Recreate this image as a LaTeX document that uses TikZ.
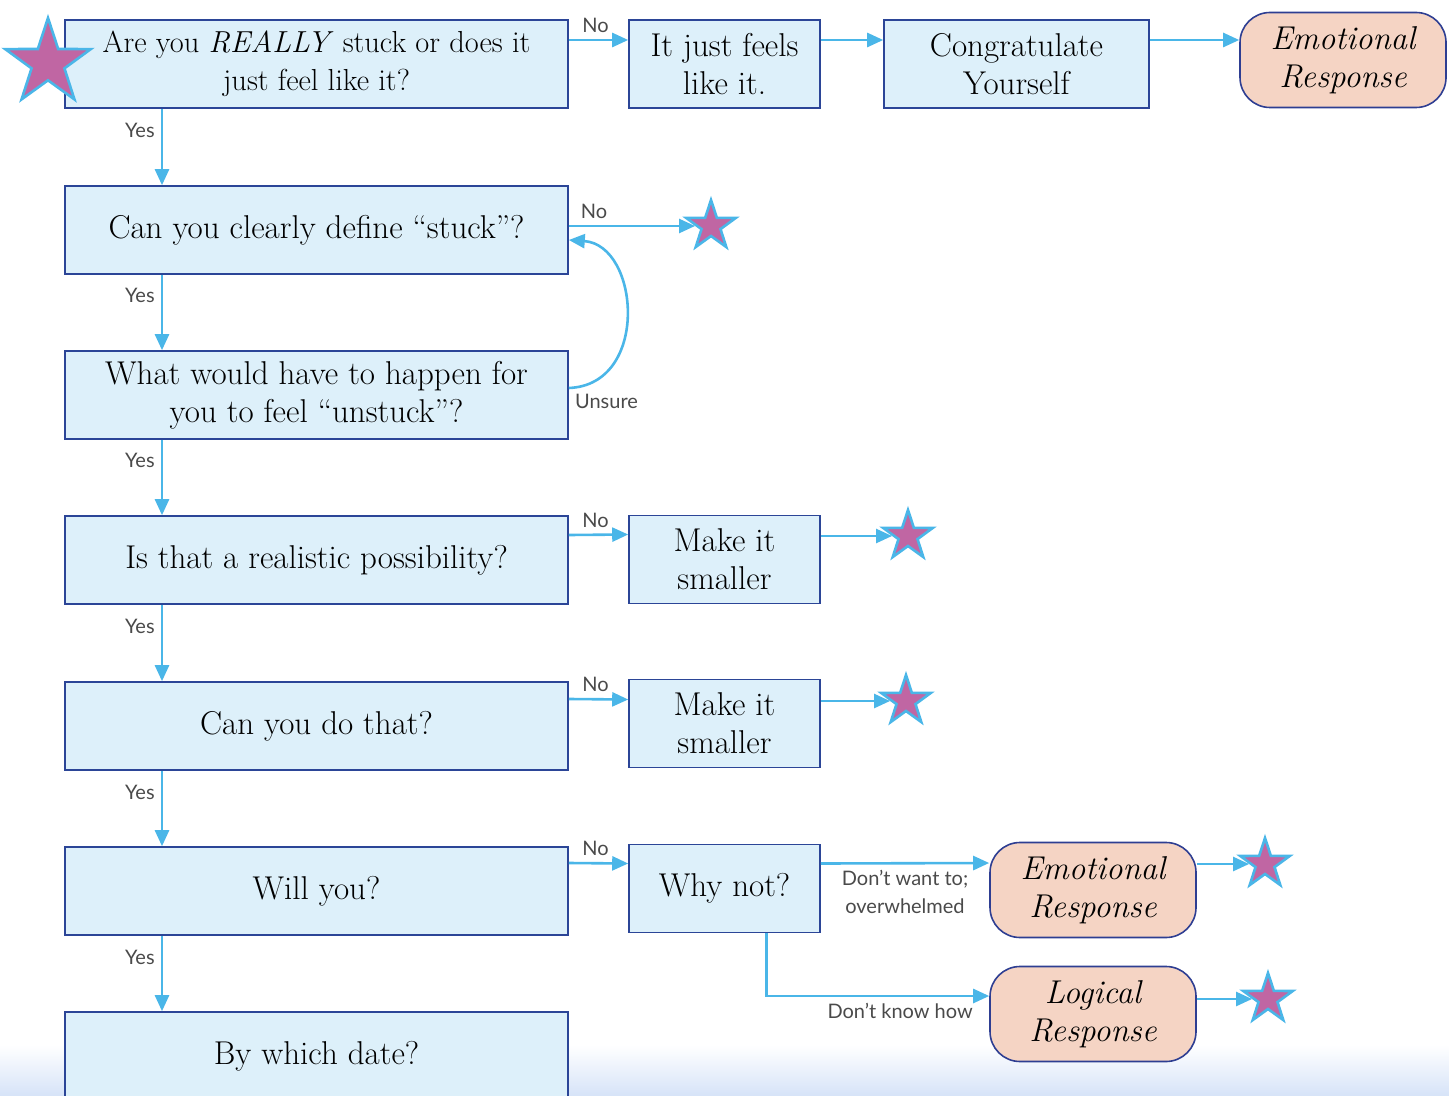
\documentclass[tikz,border=0pt]{standalone}
\usepackage{fontspec}
\newfontfamily\lblfont{Lato}
\usepackage{tikz}
\usetikzlibrary{arrows.meta,shapes.geometric,backgrounds}
\definecolor{boxfill}{HTML}{DDF0FA}
\definecolor{boxline}{HTML}{2B4597}
\definecolor{rfill}{HTML}{F5D4C4}
\definecolor{rline}{HTML}{2E3E92}
\definecolor{flowc}{HTML}{4AB6E8}
\definecolor{starfill}{HTML}{C066A3}
\definecolor{lblc}{HTML}{4A4A4A}
\definecolor{bottomc}{HTML}{D6E3F8}

\tikzset{
  qbox/.style={draw=boxline, fill=boxfill, line width=0.8pt, minimum width=251.5pt, minimum height=44pt,
    inner sep=0pt, align=center, font=\fontsize{16.5}{19}\selectfont},
  abox/.style={qbox, minimum width=95.5pt},
  rbox/.style={draw=rline, fill=rfill, line width=0.8pt, rounded corners=15pt, minimum width=103pt,
    minimum height=47.5pt, inner sep=0pt, align=center, font=\fontsize{16.5}{19}\selectfont\itshape},
  flow/.style={draw=flowc, line width=1.3pt, -{Triangle[length=8pt,width=7pt]}},
  lbl/.style={font=\lblfont\fontsize{10}{14}\selectfont, text=lblc, inner sep=3pt},
  mystar/.style={star, star points=5, star point ratio=2.6, fill=starfill, draw=flowc, line width=1.3pt,
    minimum size=26pt, inner sep=0pt},
}

\begin{document}
\begin{tikzpicture}[x=0.5pt,y=-0.5pt]
\useasboundingbox (0,0) rectangle (1449,1096);
\shade[top color=white, bottom color=bottomc] (0,1045) rectangle (1449,1096);

\node[qbox, font=\fontsize{15.2}{19}\selectfont] (b1) at (316.5,64) {Are you \textit{REALLY} stuck or does it\\just feel like it?};
\node[qbox] (b2) at (316.5,230) {Can you clearly define “stuck”?};
\node[qbox] (b3) at (316.5,395) {What would have to happen for\\you to feel “unstuck”?};
\node[qbox] (b4) at (316.5,560) {Is that a realistic possibility?};
\node[qbox] (b5) at (316.5,726) {Can you do that?};
\node[qbox] (b6) at (316.5,891) {Will you?};
\node[qbox] (b7) at (316.5,1056) {By which date?};

\node[abox] (feels) at (724.5,64) {It just feels\\like it.};
\node[qbox, minimum width=132.5pt] (congrat) at (1016.5,64) {Congratulate\\Yourself};
\node[rbox] (emo1) at (1343,60) {Emotional\\Response};
\node[abox] (small1) at (724.5,559.5) {Make it\\smaller};
\node[abox] (small2) at (724.5,723.5) {Make it\\smaller};
\node[abox] (whynot) at (724.5,888.5) {Why not?};
\node[rbox] (emo2) at (1093,890) {Emotional\\Response};
\node[rbox] (logic) at (1093,1014) {Logical\\Response};

\node[mystar, minimum size=45pt] (s0) at (48,63) {};
\node[mystar] (s1) at (711,226) {};
\node[mystar] (s2) at (908,536) {};
\node[mystar] (s3) at (906,701) {};
\node[mystar] (s4) at (1265,864) {};
\node[mystar] (s5) at (1268,999) {};

\draw[flow] ([xshift=-77.25pt]b1.south) -- node[lbl, left, pos=0.28] {Yes} ([xshift=-77.25pt]b2.north);
\draw[flow] ([xshift=-77.25pt]b2.south) -- node[lbl, left, pos=0.28] {Yes} ([xshift=-77.25pt]b3.north);
\draw[flow] ([xshift=-77.25pt]b3.south) -- node[lbl, left, pos=0.28] {Yes} ([xshift=-77.25pt]b4.north);
\draw[flow] ([xshift=-77.25pt]b4.south) -- node[lbl, left, pos=0.28] {Yes} ([xshift=-77.25pt]b5.north);
\draw[flow] ([xshift=-77.25pt]b5.south) -- node[lbl, left, pos=0.28] {Yes} ([xshift=-77.25pt]b6.north);
\draw[flow] ([xshift=-77.25pt]b6.south) -- node[lbl, left, pos=0.28] {Yes} ([xshift=-77.25pt]b7.north);

\draw[flow] ([yshift=12pt]b1.east) -- node[lbl, above, pos=0.45] {No} ([yshift=12pt]feels.west);
\draw[flow] ([yshift=12pt]feels.east) -- ([yshift=12pt]congrat.west);
\draw[flow] ([yshift=12pt]congrat.east) -- ([yshift=10pt]emo1.west);
\draw[flow] (b2.east |- s1) -- node[lbl, above, pos=0.2] {No} (s1);
\draw[flow] ([yshift=3.5pt]b3.east) .. controls (650,385) and (640,245) .. ([yshift=-5pt]b2.east)
  node[lbl, anchor=north west, pos=0, inner sep=2.5pt] {Unsure};
\draw[flow] ([yshift=12.5pt]b4.east) -- node[lbl, above, pos=0.45] {No} ([yshift=12.5pt]small1.west);
\draw[flow] (small1.east |- s2) -- (s2);
\draw[flow] ([yshift=13.5pt]b5.east) -- node[lbl, above, pos=0.45] {No} ([yshift=12pt]small2.west);
\draw[flow] (small2.east |- s3) -- (s3);
\draw[flow] ([yshift=14pt]b6.east) -- node[lbl, above, pos=0.45] {No} ([yshift=12.5pt]whynot.west);
\draw[flow] ([yshift=12.5pt]whynot.east) -- node[lbl, below, midway, align=center] {Don’t want to;\\overwhelmed} ([yshift=13.5pt]emo2.west);
\draw[flow] ([xshift=21pt]whynot.south) |- node[lbl, below, pos=0.8] {Don’t know how} ([yshift=9pt]logic.west);
\draw[flow] (emo2.east |- s4) -- (s4);
\draw[flow] (logic.east |- s5) -- (s5);
\end{tikzpicture}
\end{document}
